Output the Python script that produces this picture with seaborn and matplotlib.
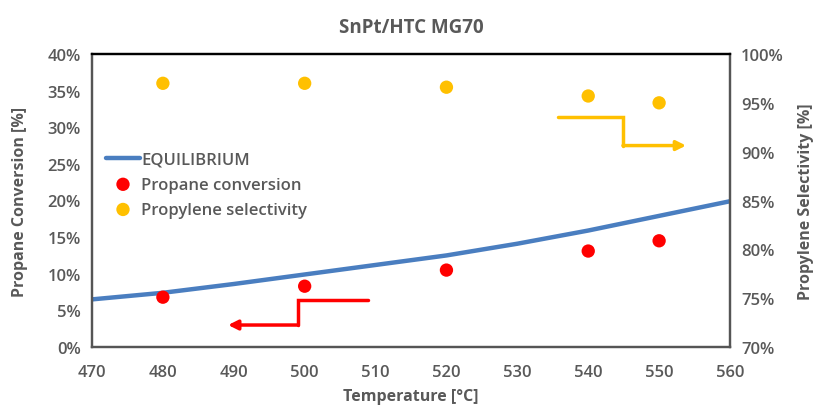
import numpy as np
import pandas as pd
import matplotlib
matplotlib.use("Agg")
import matplotlib.pyplot as plt
import seaborn as sns
from matplotlib.ticker import FuncFormatter

# Equilibrium propane conversion curve
eq_temp = [470, 480, 485, 490, 500, 510, 520, 530, 540, 550, 560]
eq_conv = [6.5, 7.4, 8.0, 8.6, 9.9, 11.2, 12.5, 14.1, 15.9, 17.9, 19.9]

# Measured points
temps = [480, 500, 520, 540, 550]
propane_conv = [6.8, 8.3, 10.5, 13.1, 14.5]
propylene_sel = [97.0, 97.0, 96.6, 95.7, 95.0]

x_ticks = [470, 480, 490, 500, 510, 520, 530, 540, 550, 560]
left_ticks = [0, 5, 10, 15, 20, 25, 30, 35, 40]
right_ticks = [70, 75, 80, 85, 90, 95, 100]

BLUE = "#4A7EC0"
RED = "#FF0000"
GOLD = "#FFC000"
GREY = "#595959"

sns.set_theme(style="white")
plt.rcParams["font.family"] = ["Open Sans", "DejaVu Sans"]

fig = plt.figure(figsize=(8.13, 4.06), dpi=100)
ax = fig.add_axes([92 / 813, 1 - 348 / 406, (730 - 92) / 813, (348 - 55) / 406])
ax2 = ax.twinx()

eq_df = pd.DataFrame({"T": eq_temp, "conv": eq_conv})
pts_df = pd.DataFrame({"T": temps, "conv": propane_conv, "sel": propylene_sel})

sns.lineplot(data=eq_df, x="T", y="conv", ax=ax, color=BLUE, linewidth=3.2,
             label="EQUILIBRIUM", legend=False)
sns.scatterplot(data=pts_df, x="T", y="conv", ax=ax, color=RED, s=92,
                edgecolor="none", label="Propane conversion", legend=False, zorder=4)
sns.scatterplot(data=pts_df, x="T", y="sel", ax=ax2, color=GOLD, s=92,
                edgecolor="none", label="Propylene selectivity", legend=False, zorder=4)

ax.set_xlim(470, 560)
ax.set_ylim(0, 40)
ax2.set_ylim(70, 100)
ax.set_xticks(x_ticks)
ax.set_yticks(left_ticks)
ax2.set_yticks(right_ticks)
pct = FuncFormatter(lambda v, p: f"{v:.0f}%")
ax.yaxis.set_major_formatter(pct)
ax2.yaxis.set_major_formatter(pct)

for a in (ax, ax2):
    a.tick_params(axis="both", length=0, labelsize=12, labelcolor=GREY, pad=8)
    a.tick_params(axis="x", pad=12)
    for lab in a.get_xticklabels() + a.get_yticklabels():
        lab.set_fontweight("semibold")
    a.grid(False)
ax.set_facecolor("white")

ax.set_xlabel("Temperature [°C]", fontsize=11.5, color=GREY, fontweight="bold", labelpad=6)
ax.set_ylabel("Propane Conversion [%]", fontsize=11.5, color=GREY, fontweight="bold", labelpad=14)
ax2.set_ylabel("Propylene Selectivity [%]", fontsize=11.5, color=GREY, fontweight="bold", labelpad=10)
ax.set_title("SnPt/HTC MG70", fontsize=13.5, color=GREY, fontweight="bold", pad=16)

for a in (ax, ax2):
    for s in a.spines.values():
        s.set_visible(True)
        s.set_color("#555555")
        s.set_linewidth(1.6)
    a.spines["top"].set_color("black")

# Direction arrows pointing to each axis
ax.annotate("", xy=(489.2, 3.0), xytext=(499.1, 3.0),
            arrowprops=dict(arrowstyle="-|>", color=RED, lw=2.5, mutation_scale=14,
                            shrinkA=0, shrinkB=0))
ax.plot([509.0, 499.1, 499.1], [6.4, 6.4, 3.0], color=RED, lw=2.5,
        solid_joinstyle="miter")
ax.annotate("", xy=(553.8, 27.5), xytext=(544.9, 27.5),
            arrowprops=dict(arrowstyle="-|>", color=GOLD, lw=2.5, mutation_scale=14,
                            shrinkA=0, shrinkB=0))
ax.plot([535.8, 544.9, 544.9], [31.4, 31.4, 27.5], color=GOLD, lw=2.5,
        solid_joinstyle="miter")

h1, l1 = ax.get_legend_handles_labels()
h2, l2 = ax2.get_legend_handles_labels()
leg = ax.legend(h1 + h2, l1 + l2, loc="upper left", bbox_to_anchor=(0.012, 0.69),
                frameon=False, fontsize=12, handlelength=2.0, handletextpad=0.1,
                labelspacing=0.55, borderaxespad=0)
for t in leg.get_texts():
    t.set_color(GREY)
    t.set_fontweight("semibold")

fig.savefig("out.png", dpi=100, facecolor="white")
